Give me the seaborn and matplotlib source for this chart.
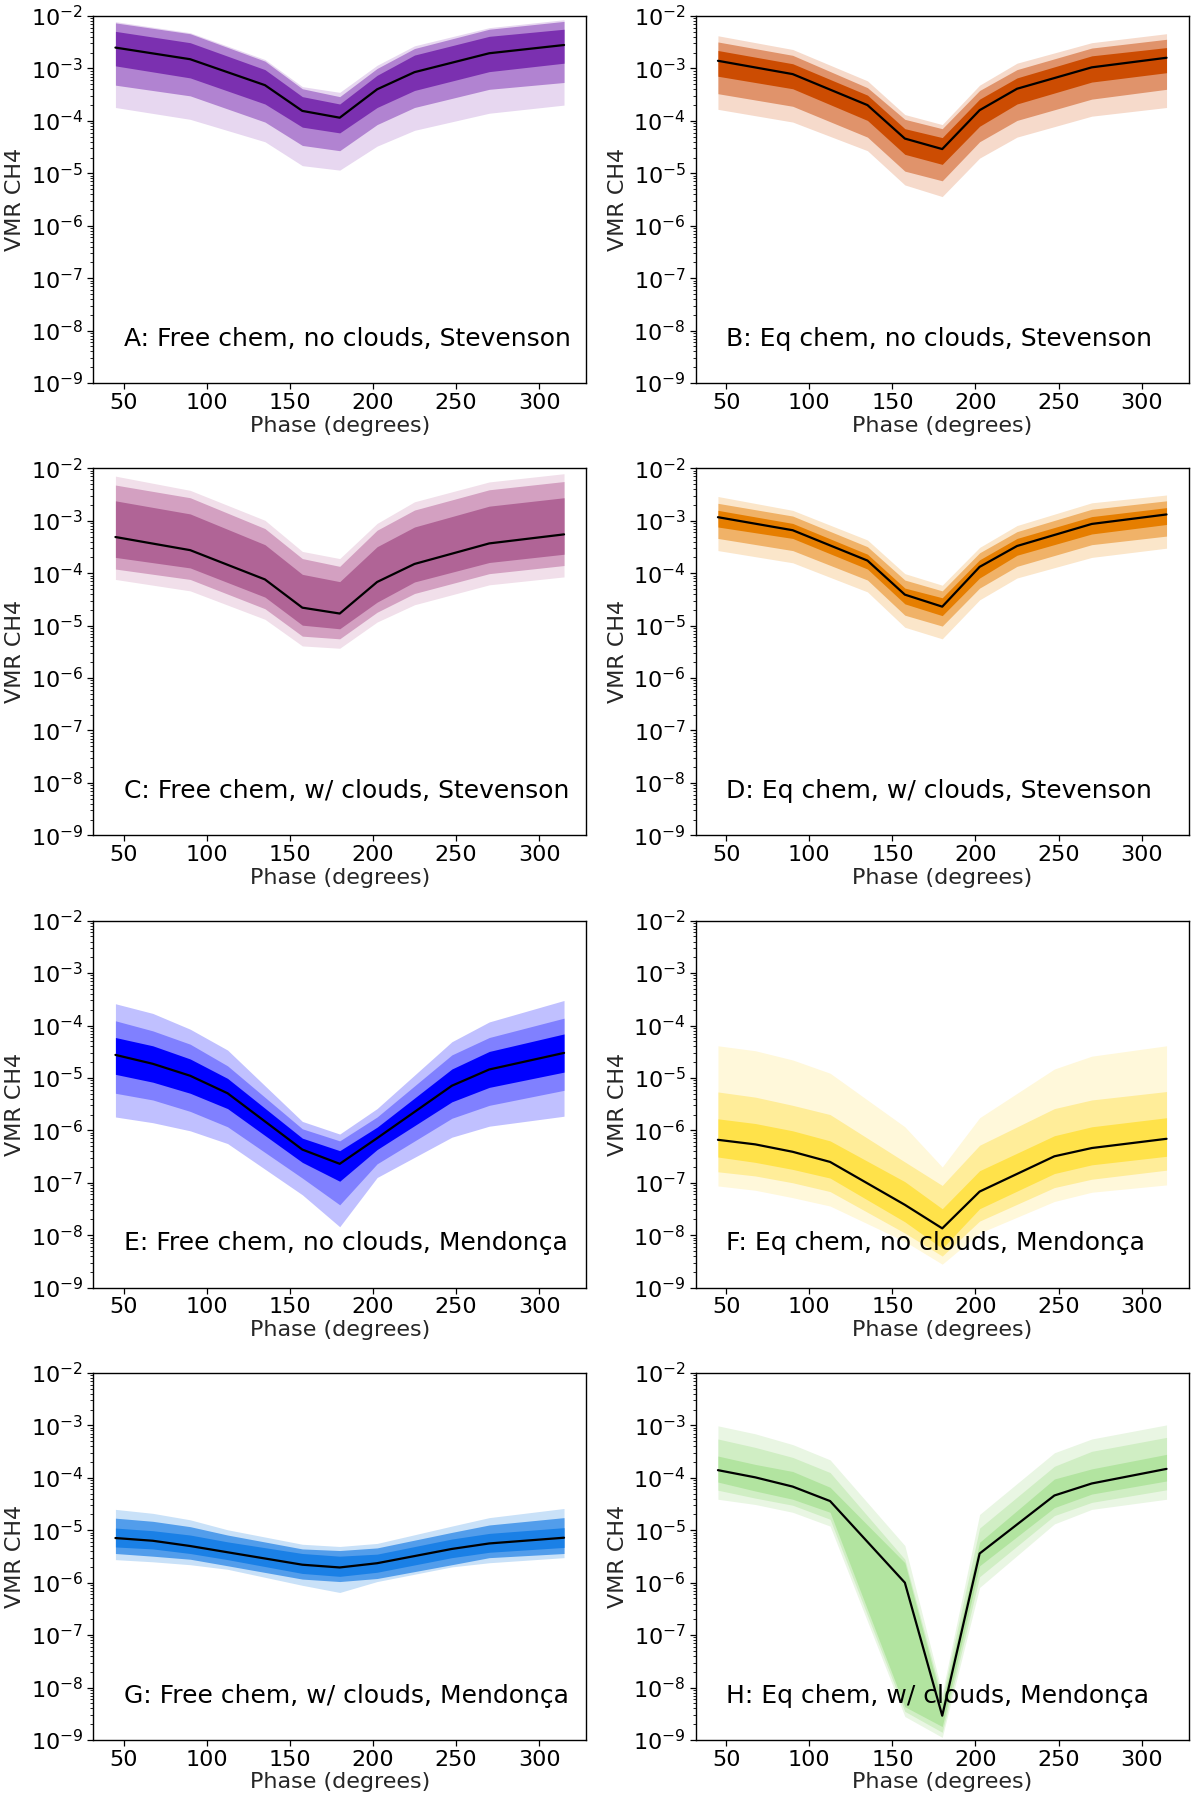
import numpy as np
import pandas as pd
import matplotlib
matplotlib.use("Agg")
import matplotlib.pyplot as plt
import seaborn as sns

# ---------------- data ----------------
phase_stev = [45, 90, 135, 157.5, 180, 202.5, 225, 270, 315]
phase_mend = [45, 67.5, 90, 112.5, 157.5, 180, 202.5, 247.5, 270, 315]

# Panel A
A_med = [2.5e-3, 1.5e-3, 4.8e-4, 1.55e-4, 1.15e-4, 4.0e-4, 8.5e-4, 1.95e-3, 2.8e-3]
A_hi1 = [5.1e-3, 3.1e-3, 9.5e-4, 2.9e-4, 2.1e-4, 7.4e-4, 1.8e-3, 4.1e-3, 5.6e-3]
A_lo1 = [1.12e-3, 6.6e-4, 2.1e-4, 7.6e-5, 5.9e-5, 1.8e-4, 3.8e-4, 8.7e-4, 1.26e-3]
A_hi2 = [7.4e-3, 4.6e-3, 1.38e-3, 4.1e-4, 2.9e-4, 1.0e-3, 2.4e-3, 5.6e-3, 7.9e-3]
A_lo2 = [4.8e-4, 3.0e-4, 9.5e-5, 3.4e-5, 2.7e-5, 8.5e-5, 1.8e-4, 4.0e-4, 5.4e-4]
A_hi3 = [7.8e-3, 4.8e-3, 1.48e-3, 4.5e-4, 3.5e-4, 1.15e-3, 2.7e-3, 6.0e-3, 8.5e-3]
A_lo3 = [1.8e-4, 1.07e-4, 4.0e-5, 1.4e-5, 1.15e-5, 3.3e-5, 6.6e-5, 1.4e-4, 2.0e-4]

# Panel B
B_med = [1.4e-3, 7.8e-4, 2.0e-4, 4.6e-5, 2.9e-5, 1.6e-4, 4.1e-4, 1.05e-3, 1.6e-3]
B_hi1 = [2.2e-3, 1.23e-3, 3.1e-4, 7.1e-5, 4.8e-5, 2.6e-4, 6.6e-4, 1.74e-3, 2.5e-3]
B_lo1 = [7.1e-4, 4.1e-4, 1.02e-4, 2.3e-5, 1.48e-5, 7.9e-5, 2.1e-4, 5.5e-4, 8.3e-4]
B_hi2 = [3.2e-3, 1.78e-3, 4.3e-4, 1.07e-4, 7.1e-5, 3.8e-4, 9.5e-4, 2.45e-3, 3.6e-3]
B_lo2 = [3.3e-4, 1.9e-4, 4.9e-5, 1.1e-5, 7.2e-6, 4.0e-5, 1.02e-4, 2.6e-4, 4.0e-4]
B_hi3 = [4.2e-3, 2.3e-3, 5.8e-4, 1.32e-4, 8.5e-5, 4.8e-4, 1.26e-3, 3.1e-3, 4.6e-3]
B_lo3 = [1.66e-4, 9.5e-5, 2.7e-5, 6.0e-6, 3.6e-6, 1.95e-5, 4.9e-5, 1.23e-4, 1.8e-4]

# Panel C
C_med = [4.9e-4, 2.75e-4, 7.6e-5, 2.2e-5, 1.7e-5, 6.8e-5, 1.5e-4, 3.7e-4, 5.5e-4]
C_hi1 = [2.4e-3, 1.35e-3, 3.5e-4, 9.5e-5, 6.9e-5, 3.2e-4, 7.6e-4, 1.9e-3, 2.75e-3]
C_lo1 = [2.0e-4, 1.26e-4, 3.5e-5, 1.02e-5, 8.7e-6, 2.8e-5, 6.8e-5, 1.6e-4, 2.3e-4]
C_hi2 = [4.8e-3, 2.75e-3, 7.1e-4, 1.9e-4, 1.35e-4, 6.6e-4, 1.6e-3, 3.9e-3, 5.6e-3]
C_lo2 = [1.2e-4, 7.6e-5, 2.1e-5, 6.3e-6, 5.6e-6, 1.8e-5, 4.1e-5, 9.8e-5, 1.4e-4]
C_hi3 = [7.1e-3, 3.8e-3, 1.02e-3, 2.6e-4, 1.9e-4, 8.9e-4, 2.3e-3, 5.5e-3, 7.9e-3]
C_lo3 = [7.6e-5, 4.6e-5, 1.32e-5, 4.1e-6, 3.7e-6, 1.17e-5, 2.5e-5, 6.0e-5, 8.5e-5]

# Panel D
D_med = [1.17e-3, 6.6e-4, 1.74e-4, 3.9e-5, 2.3e-5, 1.32e-4, 3.3e-4, 8.7e-4, 1.32e-3]
D_hi1 = [1.58e-3, 8.9e-4, 2.3e-4, 5.2e-5, 3.4e-5, 1.8e-4, 4.6e-4, 1.2e-3, 1.78e-3]
D_lo1 = [7.6e-4, 4.6e-4, 1.2e-4, 2.6e-5, 1.55e-5, 8.1e-5, 2.2e-4, 5.6e-4, 8.5e-4]
D_hi2 = [2.15e-3, 1.23e-3, 3.2e-4, 7.4e-5, 4.6e-5, 2.45e-4, 6.2e-4, 1.66e-3, 2.4e-3]
D_lo2 = [4.6e-4, 2.7e-4, 7.4e-5, 1.58e-5, 9.8e-6, 5.2e-5, 1.35e-4, 3.5e-4, 5.1e-4]
D_hi3 = [2.9e-3, 1.58e-3, 4.3e-4, 9.8e-5, 5.9e-5, 3.1e-4, 8.1e-4, 2.2e-3, 3.1e-3]
D_lo3 = [2.7e-4, 1.58e-4, 4.4e-5, 9.3e-6, 5.6e-6, 3.1e-5, 8.1e-5, 2.0e-4, 3.0e-4]

# Panel E
E_med = [2.75e-5, 1.86e-5, 1.1e-5, 5.1e-6, 4.3e-7, 2.3e-7, 7.1e-7, 7.1e-6, 1.45e-5, 3.0e-5]
E_hi1 = [5.9e-5, 4.1e-5, 2.3e-5, 9.8e-6, 7.1e-7, 4.1e-7, 1.15e-6, 1.48e-5, 3.2e-5, 6.9e-5]
E_lo1 = [1.17e-5, 8.3e-6, 5.1e-6, 2.6e-6, 2.45e-7, 1.07e-7, 4.3e-7, 3.5e-6, 6.6e-6, 1.29e-5]
E_hi2 = [1.23e-4, 7.9e-5, 4.4e-5, 1.7e-5, 1.07e-6, 6.3e-7, 1.8e-6, 2.75e-5, 5.9e-5, 1.38e-4]
E_lo2 = [5.1e-6, 3.8e-6, 2.3e-6, 1.17e-6, 1.23e-7, 3.8e-8, 2.3e-7, 1.7e-6, 3.0e-6, 5.8e-6]
E_hi3 = [2.6e-4, 1.7e-4, 8.5e-5, 3.4e-5, 1.48e-6, 8.5e-7, 2.6e-6, 4.9e-5, 1.17e-4, 3.0e-4]
E_lo3 = [1.8e-6, 1.4e-6, 9.8e-7, 5.6e-7, 5.9e-8, 1.45e-8, 1.26e-7, 7.4e-7, 1.2e-6, 1.86e-6]

# Panel F
F_med = [6.6e-7, 5.4e-7, 3.9e-7, 2.5e-7, 3.8e-8, 1.35e-8, 6.8e-8, 3.2e-7, 4.6e-7, 6.9e-7]
F_hi1 = [1.66e-6, 1.35e-6, 9.8e-7, 6.3e-7, 1.05e-7, 3.2e-8, 1.7e-7, 7.9e-7, 1.17e-6, 1.74e-6]
F_lo1 = [3.1e-7, 2.45e-7, 1.8e-7, 1.23e-7, 1.8e-8, 5.6e-9, 3.2e-8, 1.5e-7, 2.2e-7, 3.2e-7]
F_hi2 = [5.4e-6, 4.3e-6, 3.0e-6, 2.0e-6, 2.5e-7, 8.9e-8, 5.2e-7, 2.6e-6, 3.8e-6, 5.5e-6]
F_lo2 = [1.62e-7, 1.35e-7, 1.0e-7, 6.8e-8, 1.1e-8, 4.0e-9, 1.86e-8, 8.1e-8, 1.17e-7, 1.74e-7]
F_hi3 = [4.1e-5, 3.3e-5, 2.2e-5, 1.23e-5, 1.17e-6, 2.0e-7, 1.74e-6, 1.48e-5, 2.6e-5, 4.1e-5]
F_lo3 = [8.7e-8, 7.2e-8, 5.2e-8, 3.6e-8, 7.6e-9, 2.8e-9, 1.1e-8, 4.4e-8, 6.6e-8, 9.1e-8]

# Panel G
G_med = [7.1e-6, 6.3e-6, 5.0e-6, 3.8e-6, 2.2e-6, 1.95e-6, 2.35e-6, 4.4e-6, 5.6e-6, 7.2e-6]
G_hi1 = [1.1e-5, 9.8e-6, 8.1e-6, 6.0e-6, 3.6e-6, 3.2e-6, 3.5e-6, 6.8e-6, 8.7e-6, 1.12e-5]
G_lo1 = [4.8e-6, 4.4e-6, 3.6e-6, 2.75e-6, 1.5e-6, 1.32e-6, 1.58e-6, 3.0e-6, 3.8e-6, 4.7e-6]
G_hi2 = [1.7e-5, 1.48e-5, 1.17e-5, 8.1e-6, 4.4e-6, 4.1e-6, 4.6e-6, 9.1e-6, 1.26e-5, 1.74e-5]
G_lo2 = [3.6e-6, 3.2e-6, 2.8e-6, 2.1e-6, 1.17e-6, 1.05e-6, 1.2e-6, 2.2e-6, 3.0e-6, 3.6e-6]
G_hi3 = [2.5e-5, 2.1e-5, 1.58e-5, 1.02e-5, 5.4e-6, 4.9e-6, 5.6e-6, 1.2e-5, 1.74e-5, 2.6e-5]
G_lo3 = [2.75e-6, 2.5e-6, 2.2e-6, 1.8e-6, 8.9e-7, 6.5e-7, 1.05e-6, 2.0e-6, 2.4e-6, 3.0e-6]

# Panel H
H_med = [1.4e-4, 1.02e-4, 6.8e-5, 3.6e-5, 1.0e-6, 2.9e-9, 3.6e-6, 4.6e-5, 7.8e-5, 1.48e-4]
H_hi1 = [2.6e-4, 1.8e-4, 1.32e-4, 6.6e-5, 2.4e-6, 5.0e-9, 5.9e-6, 9.5e-5, 1.48e-4, 2.8e-4]
H_lo1 = [8.3e-5, 5.6e-5, 3.9e-5, 2.2e-5, 4.3e-9, 1.8e-9, 2.1e-6, 2.7e-5, 4.9e-5, 8.7e-5]
H_hi2 = [5.5e-4, 3.8e-4, 2.45e-4, 1.26e-4, 2.8e-6, 6.3e-9, 1.1e-5, 1.66e-4, 3.2e-4, 5.9e-4]
H_lo2 = [5.8e-5, 4.1e-5, 3.0e-5, 1.62e-5, 3.5e-9, 1.4e-9, 1.3e-6, 1.9e-5, 3.4e-5, 5.9e-5]
H_hi3 = [9.8e-4, 6.9e-4, 4.3e-4, 2.2e-4, 5.1e-6, 7.9e-9, 2.0e-5, 3.0e-4, 5.5e-4, 1.02e-3]
H_lo3 = [3.9e-5, 3.1e-5, 2.2e-5, 1.2e-5, 2.8e-9, 1.12e-9, 8.1e-7, 1.32e-5, 2.5e-5, 3.9e-5]

panel_labels = [
    "A: Free chem, no clouds, Stevenson",
    "B: Eq chem, no clouds, Stevenson",
    "C: Free chem, w/ clouds, Stevenson",
    "D: Eq chem, w/ clouds, Stevenson",
    "E: Free chem, no clouds, Mendonça",
    "F: Eq chem, no clouds, Mendonça",
    "G: Free chem, w/ clouds, Mendonça",
    "H: Eq chem, w/ clouds, Mendonça",
]

# colours: (1 sigma, 2 sigma, 3 sigma)
band_colors = [
    ("#7b30b0", "#b183d1", "#e7d7f0"),
    ("#cc4c02", "#e0936b", "#f6dacb"),
    ("#b06496", "#d3a0c1", "#f1dfea"),
    ("#e67e00", "#f0b268", "#fbe6ca"),
    ("#0000ff", "#8080ff", "#c0c0ff"),
    ("#ffe24a", "#ffed99", "#fff8da"),
    ("#1a80e6", "#529deb", "#c9e1f8"),
    ("#b2e4a0", "#d0eec4", "#e9f6e3"),
]

panels = [
    (phase_stev, A_med, A_hi1, A_lo1, A_hi2, A_lo2, A_hi3, A_lo3),
    (phase_stev, B_med, B_hi1, B_lo1, B_hi2, B_lo2, B_hi3, B_lo3),
    (phase_stev, C_med, C_hi1, C_lo1, C_hi2, C_lo2, C_hi3, C_lo3),
    (phase_stev, D_med, D_hi1, D_lo1, D_hi2, D_lo2, D_hi3, D_lo3),
    (phase_mend, E_med, E_hi1, E_lo1, E_hi2, E_lo2, E_hi3, E_lo3),
    (phase_mend, F_med, F_hi1, F_lo1, F_hi2, F_lo2, F_hi3, F_lo3),
    (phase_mend, G_med, G_hi1, G_lo1, G_hi2, G_lo2, G_hi3, G_lo3),
    (phase_mend, H_med, H_hi1, H_lo1, H_hi2, H_lo2, H_hi3, H_lo3),
]

# ---------------- style ----------------
sns.set_theme(style="ticks")
plt.rcParams["font.family"] = ["DejaVu Sans"]
plt.rcParams["axes.edgecolor"] = "black"
plt.rcParams["axes.linewidth"] = 1.0
plt.rcParams["xtick.color"] = "black"
plt.rcParams["ytick.color"] = "black"

fig, axes = plt.subplots(4, 2, figsize=(12, 18.01), dpi=100)
fig.subplots_adjust(left=0.0775, right=0.9908, top=0.9911, bottom=0.0339,
                    wspace=0.221, hspace=0.2325)

for i, ax in enumerate(axes.flat):
    ph, med, hi1, lo1, hi2, lo2, hi3, lo3 = panels[i]
    c1, c2, c3 = band_colors[i]
    ax.fill_between(ph, lo3, hi3, color=c3, linewidth=0)
    ax.fill_between(ph, lo2, hi2, color=c2, linewidth=0)
    ax.fill_between(ph, lo1, hi1, color=c1, linewidth=0)
    df = pd.DataFrame({"Phase": ph, "VMR": med})
    sns.lineplot(data=df, x="Phase", y="VMR", ax=ax, color="black",
                 linewidth=1.6, estimator=None, sort=False)
    ax.set_yscale("log")
    ax.set_ylim(1e-9, 1e-2)
    ax.set_xticks([50, 100, 150, 200, 250, 300])
    ax.set_xlabel("Phase (degrees)", fontsize=16, labelpad=2)
    ax.set_ylabel("VMR CH4", fontsize=16, labelpad=4)
    ax.tick_params(axis="both", which="major", labelsize=16, direction="out",
                   length=4, width=0.9, pad=3)
    ax.tick_params(axis="y", which="minor", direction="out", length=2, width=0.6)
    ax.text(50, 7e-9, panel_labels[i], fontsize=18, ha="left", va="center",
            color="black")
    for sp in ax.spines.values():
        sp.set_visible(True)
        sp.set_color("black")
        sp.set_linewidth(1.0)

fig.savefig("out.png", dpi=100, facecolor="white")
